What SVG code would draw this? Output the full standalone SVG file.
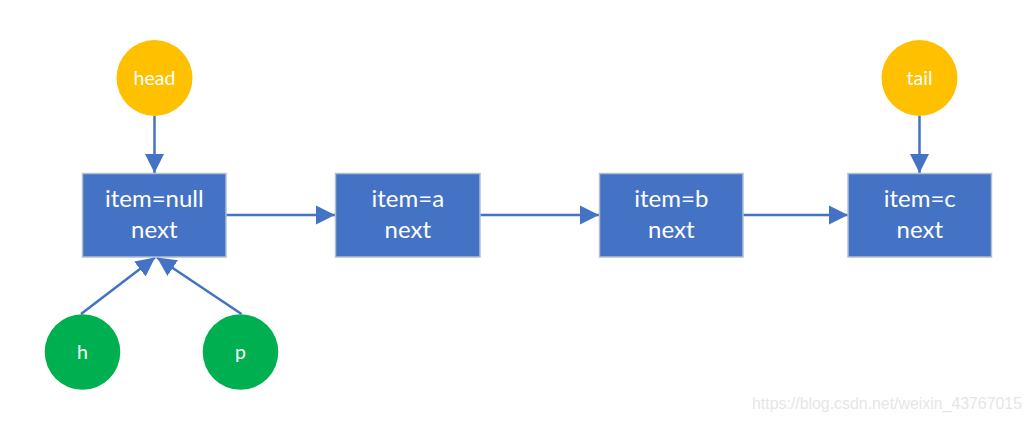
<svg xmlns="http://www.w3.org/2000/svg" width="1032" height="421" viewBox="0 0 1032 421">
<style>
.box{fill:#4472C4;stroke:#B4BECF;stroke-width:1.5}
.bt{font-family:Lato,"Open Sans",sans-serif;font-size:24px;fill:#fff;text-anchor:middle}
.ct{font-family:Lato,"Open Sans",sans-serif;font-size:19.5px;fill:#fff;text-anchor:middle}
.yel{fill:#FFC000}
.grn{fill:#00B050}
.edge{stroke:#4472C4;stroke-width:2.5;fill:none;marker-end:url(#arr)}
.wm{font-family:"Liberation Sans",Arial,sans-serif;font-size:16px;fill:#E6E6E6}
</style>
<defs>
<marker id="arr" markerUnits="userSpaceOnUse" markerWidth="20" markerHeight="20" viewBox="0 0 20 20" refX="19" refY="10" orient="auto">
<path d="M0,0.5 L19,10 L0,19.5 Z" fill="#4472C4"/>
</marker>
</defs>
<rect width="1032" height="421" fill="#fff"/>
<g id="connectors">
<line class="edge" x1="154.5" y1="116" x2="154.5" y2="173"/>
<line class="edge" x1="919.5" y1="116" x2="919.5" y2="173"/>
<line class="edge" x1="226" y1="215" x2="335" y2="215"/>
<line class="edge" x1="480" y1="215" x2="599" y2="215"/>
<line class="edge" x1="743" y1="215" x2="848" y2="215"/>
<line class="edge" x1="81" y1="314" x2="155" y2="257.5"/>
<line class="edge" x1="241.5" y1="314" x2="157" y2="257.5"/>
</g>
<g id="head"><circle class="yel" cx="154.5" cy="78" r="38"/><text class="ct" x="154.5" y="85">head</text></g>
<g id="tail"><circle class="yel" cx="919.5" cy="78" r="38"/><text class="ct" x="919.5" y="85">tail</text></g>
<g id="h"><circle class="grn" cx="82.5" cy="352" r="37.8"/><text class="ct" x="82.5" y="358.5">h</text></g>
<g id="p"><circle class="grn" cx="240.5" cy="352" r="37.8"/><text class="ct" x="240.5" y="358.5">p</text></g>
<g id="node0"><rect class="box" x="82.5" y="173.5" width="143.5" height="83.5"/><text class="bt" x="154.3" y="206.5">item=null</text><text class="bt" x="154.3" y="238">next</text></g>
<g id="node1"><rect class="box" x="335.5" y="173.5" width="144.5" height="83.5"/><text class="bt" x="407.8" y="206.5">item=a</text><text class="bt" x="407.8" y="238">next</text></g>
<g id="node2"><rect class="box" x="599.5" y="173.5" width="143.5" height="83.5"/><text class="bt" x="671.3" y="206.5">item=b</text><text class="bt" x="671.3" y="238">next</text></g>
<g id="node3"><rect class="box" x="848" y="173.5" width="143.5" height="83.5"/><text class="bt" x="919.8" y="206.5">item=c</text><text class="bt" x="919.8" y="238">next</text></g>
<text class="wm" x="752" y="409" textLength="270" lengthAdjust="spacingAndGlyphs">https://blog.csdn.net/weixin_43767015</text>
</svg>
